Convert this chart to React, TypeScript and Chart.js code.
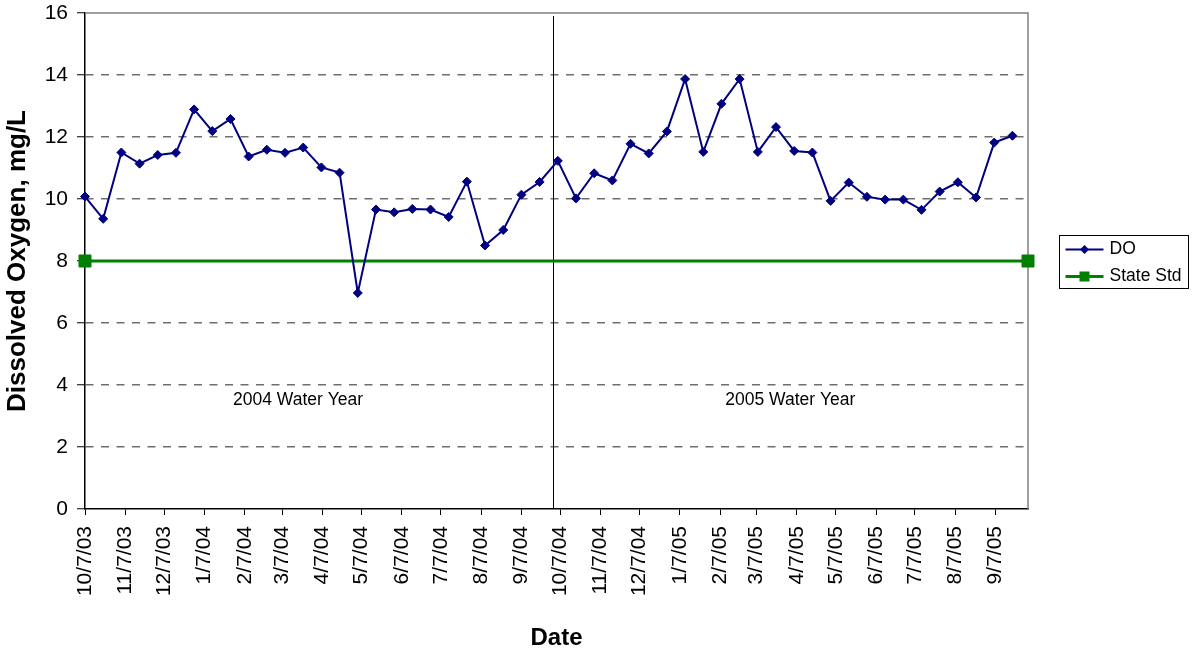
import React, { useEffect, useRef } from "react";
import { Chart, registerables } from "chart.js";

Chart.register(...registerables);

const FONT = "'Liberation Sans', Arial, Helvetica, sans-serif";

// Sampling dates (m/d/yy) and dissolved oxygen values (mg/L)
const sampleDates = [
  "10/7/03", "10/21/03", "11/4/03", "11/18/03", "12/2/03", "12/16/03", "12/30/03",
  "1/13/04", "1/27/04", "2/10/04", "2/24/04", "3/9/04", "3/23/04", "4/6/04",
  "4/20/04", "5/4/04", "5/18/04", "6/1/04", "6/15/04", "6/29/04", "7/13/04",
  "7/27/04", "8/10/04", "8/24/04", "9/7/04", "9/21/04", "10/5/04", "10/19/04",
  "11/2/04", "11/16/04", "11/30/04", "12/14/04", "12/28/04", "1/11/05", "1/25/05",
  "2/8/05", "2/22/05", "3/8/05", "3/22/05", "4/5/05", "4/19/05", "5/3/05",
  "5/17/05", "5/31/05", "6/14/05", "6/28/05", "7/12/05", "7/26/05", "8/9/05",
  "8/23/05", "9/6/05", "9/20/05",
];
const doValues = [
  10.08, 9.36, 11.5, 11.14, 11.42, 11.49, 12.89,
  12.19, 12.58, 11.37, 11.59, 11.49, 11.66, 11.02,
  10.85, 6.97, 9.66, 9.57, 9.68, 9.66, 9.42,
  10.56, 8.5, 9.0, 10.14, 10.55, 11.23, 10.02,
  10.83, 10.6, 11.78, 11.47, 12.18, 13.87, 11.52,
  13.07, 13.87, 11.52, 12.32, 11.55, 11.5, 9.94,
  10.53, 10.07, 9.98, 9.98, 9.65, 10.24, 10.54,
  10.05, 11.82, 12.04,
];

const stdDates = ["10/7/03", "10/2/05"];
const stdValues = [8, 8];

const tickDates = [
  "10/7/03", "11/7/03", "12/7/03", "1/7/04", "2/7/04", "3/7/04", "4/7/04", "5/7/04",
  "6/7/04", "7/7/04", "8/7/04", "9/7/04", "10/7/04", "11/7/04", "12/7/04", "1/7/05",
  "2/7/05", "3/7/05", "4/7/05", "5/7/05", "6/7/05", "7/7/05", "8/7/05", "9/7/05",
];
const axisStart = "10/7/03";
const axisEnd = "10/2/05";

const yMin = 0;
const yMax = 16;
const yStep = 2;

const dividerDate = "10/1/04";
const annotationLabels = ["2004 Water Year", "2005 Water Year"];
const annotationDates = ["3/19/04", "4/2/05"];
const annotationY = [3.5, 3.5];

const seriesNames = ["DO", "State Std"];
const seriesColors = ["#000080", "#008000"];

function dayNum(s: string): number {
  const [m, d, y] = s.split("/").map(Number);
  return Date.UTC(2000 + y, m - 1, d) / 86400000;
}

const decorPlugin = {
  id: "decor",
  beforeDatasetsDraw(chart: any) {
    const { ctx, chartArea: a, scales } = chart;
    const x = scales.x;
    const y = scales.y;
    ctx.save();
    // plot area top/right border
    ctx.strokeStyle = "#808080";
    ctx.lineWidth = 1.5;
    ctx.beginPath();
    ctx.moveTo(a.left, a.top);
    ctx.lineTo(a.right, a.top);
    ctx.lineTo(a.right, a.bottom);
    ctx.stroke();
    // water year divider
    const dx = Math.round(x.getPixelForValue(dayNum(dividerDate))) + 0.5;
    ctx.strokeStyle = "#000";
    ctx.lineWidth = 1;
    ctx.beginPath();
    ctx.moveTo(dx, a.top + 3);
    ctx.lineTo(dx, a.bottom);
    ctx.stroke();
    // annotations
    ctx.fillStyle = "#000";
    ctx.font = `17.5px ${FONT}`;
    ctx.textAlign = "center";
    ctx.textBaseline = "middle";
    annotationLabels.forEach((t, i) => {
      ctx.fillText(
        t,
        x.getPixelForValue(dayNum(annotationDates[i])),
        y.getPixelForValue(annotationY[i])
      );
    });
    ctx.restore();
  },
  afterDraw(chart: any) {
    const { ctx, chartArea: a } = chart;
    const bw = 129;
    const bh = 53;
    const bx = Math.round(a.right + 31) + 0.5;
    const by = Math.round((a.top + a.bottom) / 2 - bh / 2) + 0.5;
    ctx.save();
    ctx.fillStyle = "#fff";
    ctx.fillRect(bx, by, bw, bh);
    ctx.strokeStyle = "#000";
    ctx.lineWidth = 1;
    ctx.strokeRect(bx, by, bw, bh);
    const rows = [by + 14, by + 41];
    // DO
    ctx.strokeStyle = seriesColors[0];
    ctx.lineWidth = 2;
    ctx.beginPath();
    ctx.moveTo(bx + 6, rows[0]);
    ctx.lineTo(bx + 44, rows[0]);
    ctx.stroke();
    ctx.fillStyle = seriesColors[0];
    const cx = bx + 25;
    const r = 4.5;
    ctx.beginPath();
    ctx.moveTo(cx, rows[0] - r);
    ctx.lineTo(cx + r, rows[0]);
    ctx.lineTo(cx, rows[0] + r);
    ctx.lineTo(cx - r, rows[0]);
    ctx.closePath();
    ctx.fill();
    // State Std
    ctx.strokeStyle = seriesColors[1];
    ctx.lineWidth = 3;
    ctx.beginPath();
    ctx.moveTo(bx + 6, rows[1]);
    ctx.lineTo(bx + 44, rows[1]);
    ctx.stroke();
    ctx.fillStyle = seriesColors[1];
    ctx.fillRect(cx - 5, rows[1] - 5, 10, 10);
    // text
    ctx.fillStyle = "#000";
    ctx.font = `17.5px ${FONT}`;
    ctx.textAlign = "left";
    ctx.textBaseline = "middle";
    ctx.fillText(seriesNames[0], bx + 50, rows[0]);
    ctx.fillText(seriesNames[1], bx + 50, rows[1]);
    ctx.restore();
  },
};

export default function App() {
  const canvasRef = useRef<HTMLCanvasElement | null>(null);

  useEffect(() => {
    document.body.style.margin = "0";
    const canvas = canvasRef.current;
    if (!canvas) return;

    const doData = sampleDates.map((d, i) => ({ x: dayNum(d), y: doValues[i] }));
    const stdData = stdDates.map((d, i) => ({ x: dayNum(d), y: stdValues[i] }));

    const chart = new Chart(canvas, {
      type: "line",
      data: {
        datasets: [
          {
            label: seriesNames[0],
            data: doData,
            borderColor: seriesColors[0],
            backgroundColor: seriesColors[0],
            borderWidth: 2,
            pointStyle: "rectRot",
            pointRadius: 4.5,
            pointBorderWidth: 1,
            pointBackgroundColor: seriesColors[0],
            pointBorderColor: seriesColors[0],
            tension: 0,
            clip: false as any,
          },
          {
            label: seriesNames[1],
            data: stdData,
            borderColor: seriesColors[1],
            backgroundColor: seriesColors[1],
            borderWidth: 3,
            pointStyle: "rect",
            pointRadius: 8.5,
            pointBorderWidth: 1,
            pointBackgroundColor: seriesColors[1],
            pointBorderColor: seriesColors[1],
            tension: 0,
            clip: false as any,
          },
        ],
      },
      options: {
        animation: false,
        responsive: false,
        devicePixelRatio: 1,
        layout: { autoPadding: false, padding: { top: 13, right: 166, bottom: 0, left: 0 } },
        plugins: {
          legend: { display: false },
          tooltip: { enabled: false },
        },
        scales: {
          x: {
            type: "linear",
            min: dayNum(axisStart),
            max: dayNum(axisEnd),
            afterBuildTicks: (scale: any) => {
              scale.ticks = tickDates.map((d) => ({ value: dayNum(d) }));
            },
            afterFit: (scale: any) => {
              scale.height = 140;
            },
            ticks: {
              autoSkip: false,
              minRotation: 90,
              maxRotation: 90,
              padding: 11,
              color: "#000",
              font: { family: FONT, size: 21 },
              callback: (_v: any, i: number) => tickDates[i],
            },
            grid: {
              drawOnChartArea: false,
              drawTicks: true,
              tickLength: 6,
              tickColor: "#000",
              tickWidth: 1,
            },
            border: { display: true, color: "#000", width: 1.5 },
            title: {
              display: true,
              text: "Date",
              color: "#000",
              font: { family: FONT, size: 24, weight: "bold", lineHeight: 1 },
              padding: { top: 0, bottom: -1 },
            },
          },
          y: {
            min: yMin,
            max: yMax,
            afterFit: (scale: any) => {
              scale.width = 85;
            },
            ticks: {
              stepSize: yStep,
              padding: 9,
              color: "#000",
              font: { family: FONT, size: 21, lineHeight: 0.2 },
            },
            grid: {
              drawTicks: true,
              tickLength: 8,
              tickColor: "#000",
              tickWidth: 1,
              lineWidth: 1.5,
              color: (c: any) =>
                c.tick && (c.tick.value === yMin || c.tick.value === yMax)
                  ? "rgba(0,0,0,0)"
                  : "#6e6e6e",
            },
            border: { display: true, color: "#000", width: 1.5, dash: [8, 7.5] },
            title: {
              display: true,
              text: "Dissolved Oxygen, mg/L",
              color: "#000",
              font: { family: FONT, size: 26, weight: "bold", lineHeight: 1.2 },
              padding: { top: 2.5, bottom: 0 },
            },
          },
        },
      } as any,
      plugins: [decorPlugin],
    });

    return () => {
      chart.destroy();
    };
  }, []);

  return (
    <div style={{ position: "absolute", left: 0, top: 0, width: 1194, height: 649 }}>
      <canvas ref={canvasRef} width={1194} height={649} />
    </div>
  );
}
